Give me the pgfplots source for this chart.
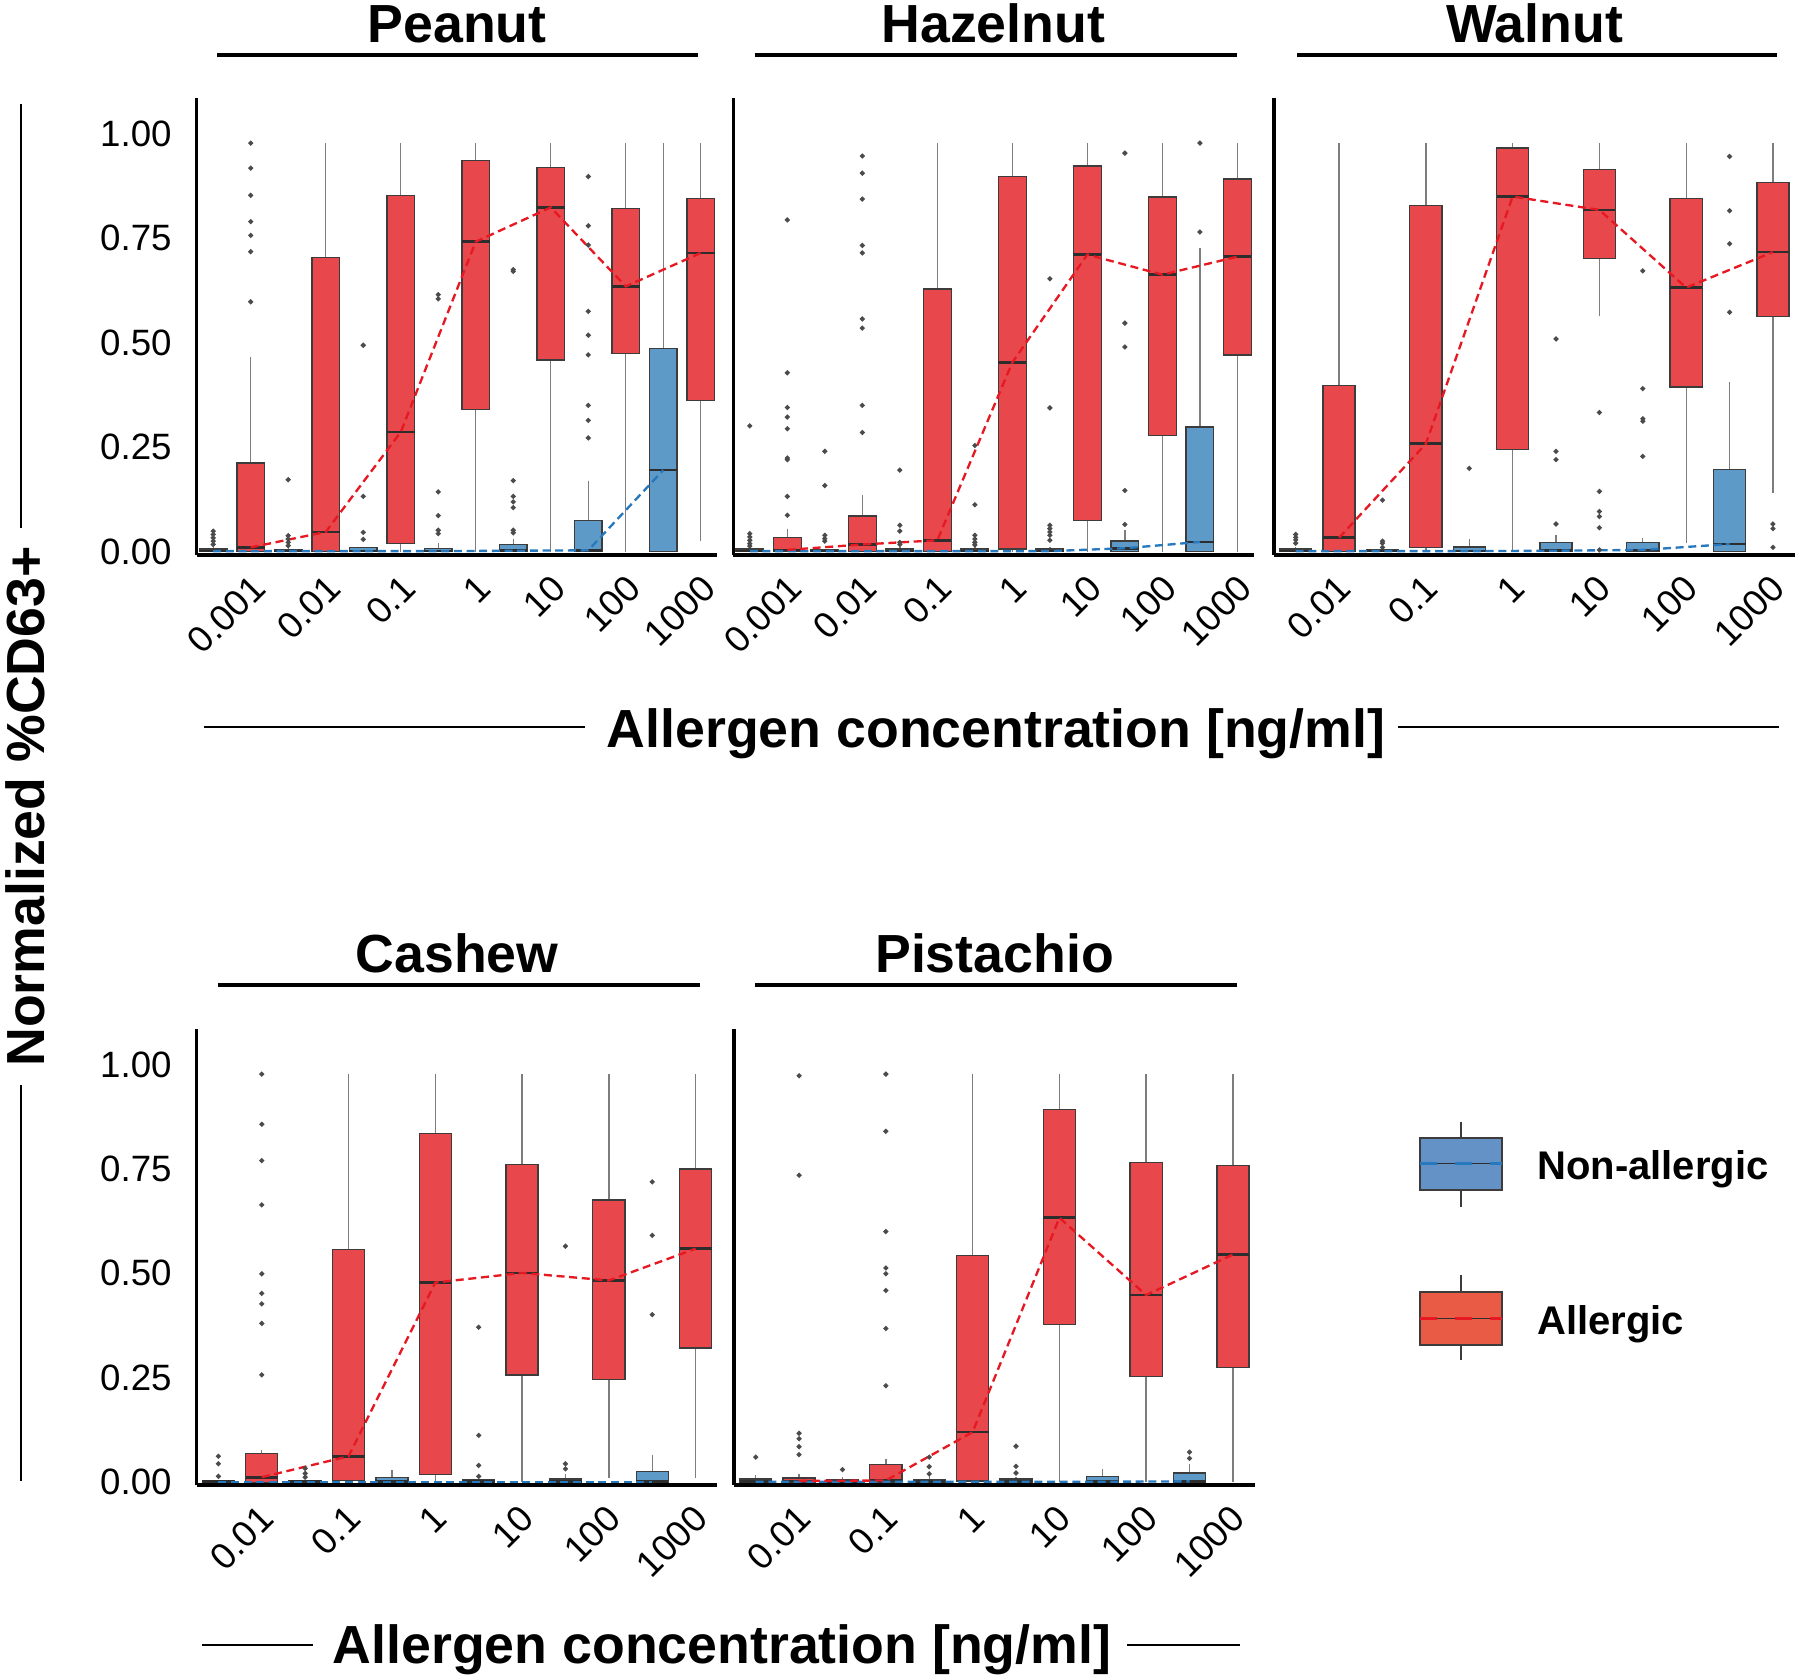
\documentclass[border=0pt]{standalone}
\usepackage{fontspec}
\setmainfont{Liberation Sans}
\usepackage{pgfplots}
\pgfplotsset{compat=1.18}
\usepgfplotslibrary{statistics}

\definecolor{bluefill}{RGB}{94,154,200}
\definecolor{redfill}{RGB}{232,72,76}
\definecolor{boxedge}{RGB}{60,60,60}
\definecolor{whiskc}{RGB}{125,125,125}
\definecolor{medc}{RGB}{45,45,45}
\definecolor{outc}{RGB}{75,75,75}
\definecolor{redline}{RGB}{230,25,35}
\definecolor{blueline}{RGB}{40,120,190}
\definecolor{legblue}{RGB}{100,146,198}
\definecolor{legred}{RGB}{233,91,69}

\newcommand{\ticksize}{\fontsize{11}{13}\selectfont}
\newcommand{\bigfont}{\fontsize{16.1}{19}\selectfont\bfseries}
\newcommand{\legfont}{\fontsize{12}{14}\selectfont\bfseries}

\pgfplotsset{
 panel/.style={
  scale only axis, width=156.18pt, height=137.01pt,
  ymin=-0.0075, ymax=1.086,
  axis x line*=bottom, axis y line*=left,
  x axis line style={line width=1.2pt,-},
  y axis line style={line width=1pt,-},
  major tick length=0pt,
  ytick={0,0.25,0.5,0.75,1},
  yticklabels={},
  tick label style={font=\ticksize},
  xticklabel style={xshift=10.5pt,yshift=-5.7pt,rotate=45,anchor=east},
  yticklabel style={xshift=-4pt},
  boxplot/draw direction=y,
  boxplot/box extend=0.37,
  boxplot/whisker extend=0,
  boxplot/every whisker/.style={draw=whiskc, line width=0.4pt},
  boxplot/every median/.style={draw=medc, line width=0.8pt},
 },
 seven/.style={xmin=-0.47, xmax=6.47, xtick={0,...,6}, xticklabels={0.001,0.01,0.1,1,10,100,1000}},
 six/.style={xmin=-0.5, xmax=5.5, xtick={0,...,5}, xticklabels={0.01,0.1,1,10,100,1000}},
 withy/.style={yticklabels={0.00,0.25,0.50,0.75,1.00}},
 nbx/.style={draw=boxedge, fill=bluefill, line width=0.4pt},
 alx/.style={draw=boxedge, fill=redfill, line width=0.4pt},
 outl/.style={only marks, mark=*, mark size=0.55pt, color=outc},
 rline/.style={no marks, draw=redline, line width=0.7pt, dash pattern=on 2.4pt off 1.4pt},
 bline/.style={no marks, draw=blueline, line width=0.7pt, dash pattern=on 2.4pt off 1.4pt},
}

\newcommand{\BP}[7]{\addplot[#2, boxplot prepared={draw direction=y, draw position=#1, lower whisker=#3, lower quartile=#4, median=#5, upper quartile=#6, upper whisker=#7}] coordinates {};}

\begin{document}
\begin{tikzpicture}
\useasboundingbox (0pt,0pt) rectangle (540pt,503.7pt);

% ---------------- Peanut
\begin{axis}[panel, seven, withy, at={(59.01pt,337.29pt)}, anchor=south west]
\BP{-0.25}{nbx}{0}{0}{0.001}{0.006}{0.010}
\BP{0.25}{alx}{0}{0}{0.010}{0.212}{0.465}
\BP{0.75}{nbx}{0}{0}{0.001}{0.005}{0.008}
\BP{1.25}{alx}{0}{0}{0.047}{0.704}{0.978}
\BP{1.75}{nbx}{0}{0}{0.001}{0.010}{0.012}
\BP{2.25}{alx}{0}{0.019}{0.286}{0.852}{0.978}
\BP{2.75}{nbx}{0}{0}{0.001}{0.008}{0.020}
\BP{3.25}{alx}{0}{0.340}{0.742}{0.936}{0.978}
\BP{3.75}{nbx}{0}{0}{0.002}{0.017}{0.029}
\BP{4.25}{alx}{0}{0.459}{0.824}{0.920}{0.978}
\BP{4.75}{nbx}{0}{0}{0.003}{0.074}{0.170}
\BP{5.25}{alx}{0}{0.475}{0.635}{0.822}{0.978}
\BP{5.75}{nbx}{0}{0}{0.195}{0.486}{0.978}
\BP{6.25}{alx}{0.025}{0.362}{0.715}{0.845}{0.978}
\addplot[outl] coordinates {(-0.25,0.049)(-0.25,0.041)(-0.25,0.033)(-0.25,0.025)(-0.25,0.017)
 (0.25,0.978)(0.25,0.918)(0.25,0.853)(0.25,0.790)(0.25,0.757)(0.25,0.718)(0.25,0.598)
 (0.75,0.172)(0.75,0.038)(0.75,0.030)(0.75,0.022)(0.75,0.014)
 (1.75,0.494)(1.75,0.132)(1.75,0.046)(1.75,0.029)
 (2.75,0.615)(2.75,0.605)(2.75,0.143)(2.75,0.086)(2.75,0.051)(2.75,0.043)
 (3.75,0.675)(3.75,0.671)(3.75,0.170)(3.75,0.132)(3.75,0.119)(3.75,0.105)(3.75,0.051)(3.75,0.045)
 (4.75,0.898)(4.75,0.780)(4.75,0.734)(4.75,0.575)(4.75,0.518)(4.75,0.471)(4.75,0.350)(4.75,0.314)(4.75,0.272)};
\addplot[bline] coordinates {(-0.25,0.001)(0.75,0.001)(1.75,0.001)(2.75,0.001)(3.75,0.002)(4.75,0.003)(5.75,0.195)};
\addplot[rline] coordinates {(0.25,0.010)(1.25,0.047)(2.25,0.286)(3.25,0.742)(4.25,0.824)(5.25,0.635)(6.25,0.715)};
\end{axis}

% ---------------- Hazelnut
\begin{axis}[panel, seven, at={(219.99pt,337.29pt)}, anchor=south west]
\BP{-0.25}{nbx}{0}{0}{0.001}{0.006}{0.010}
\BP{0.25}{alx}{0}{0}{0.004}{0.033}{0.055}
\BP{0.75}{nbx}{0}{0}{0.001}{0.004}{0.006}
\BP{1.25}{alx}{0}{0}{0.017}{0.085}{0.136}
\BP{1.75}{nbx}{0}{0}{0.001}{0.006}{0.010}
\BP{2.25}{alx}{0}{0}{0.027}{0.629}{0.978}
\BP{2.75}{nbx}{0}{0}{0.001}{0.006}{0.010}
\BP{3.25}{alx}{0}{0.006}{0.453}{0.898}{0.978}
\BP{3.75}{nbx}{0}{0}{0.001}{0.006}{0.012}
\BP{4.25}{alx}{0}{0.074}{0.711}{0.923}{0.978}
\BP{4.75}{nbx}{0}{0}{0.008}{0.025}{0.051}
\BP{5.25}{alx}{0}{0.278}{0.663}{0.849}{0.978}
\BP{5.75}{nbx}{0}{0}{0.023}{0.298}{0.727}
\BP{6.25}{alx}{0}{0.471}{0.706}{0.892}{0.978}
\addplot[outl] coordinates {(-0.25,0.301)(-0.25,0.043)(-0.25,0.035)(-0.25,0.027)(-0.25,0.019)(-0.25,0.013)
 (0.25,0.794)(0.25,0.428)(0.25,0.345)(0.25,0.322)(0.25,0.294)(0.25,0.224)(0.25,0.220)(0.25,0.132)(0.25,0.087)
 (0.75,0.240)(0.75,0.158)(0.75,0.039)(0.75,0.031)(0.75,0.025)
 (1.25,0.947)(1.25,0.906)(1.25,0.844)(1.25,0.733)(1.25,0.715)(1.25,0.557)(1.25,0.535)(1.25,0.350)(1.25,0.285)
 (1.75,0.195)(1.75,0.063)(1.75,0.049)(1.75,0.022)(1.75,0.017)
 (2.75,0.254)(2.75,0.112)(2.75,0.039)(2.75,0.030)(2.75,0.022)(2.75,0.016)
 (3.75,0.653)(3.75,0.344)(3.75,0.063)(3.75,0.055)(3.75,0.047)(3.75,0.039)(3.75,0.027)
 (4.75,0.954)(4.75,0.547)(4.75,0.490)(4.75,0.146)(4.75,0.065)
 (5.75,0.978)(5.75,0.765)};
\addplot[bline] coordinates {(-0.25,0.001)(0.75,0.001)(1.75,0.001)(2.75,0.001)(3.75,0.001)(4.75,0.008)(5.75,0.023)};
\addplot[rline] coordinates {(0.25,0.004)(1.25,0.017)(2.25,0.027)(3.25,0.453)(4.25,0.711)(5.25,0.663)(6.25,0.706)};
\end{axis}

% ---------------- Walnut
\begin{axis}[panel, six, at={(382.2pt,337.29pt)}, anchor=south west]
\BP{-0.25}{nbx}{0}{0}{0.001}{0.006}{0.010}
\BP{0.25}{alx}{0}{0}{0.033}{0.398}{0.978}
\BP{0.75}{nbx}{0}{0}{0.001}{0.004}{0.006}
\BP{1.25}{alx}{0}{0.010}{0.258}{0.829}{0.978}
\BP{1.75}{nbx}{0}{0}{0.001}{0.011}{0.029}
\BP{2.25}{alx}{0}{0.244}{0.850}{0.966}{0.978}
\BP{2.75}{nbx}{0}{0}{0.002}{0.022}{0.039}
\BP{3.25}{alx}{0.563}{0.701}{0.818}{0.915}{0.978}
\BP{3.75}{nbx}{0}{0}{0.004}{0.021}{0.033}
\BP{4.25}{alx}{0.020}{0.394}{0.632}{0.846}{0.978}
\BP{4.75}{nbx}{0}{0}{0.018}{0.196}{0.405}
\BP{5.25}{alx}{0.140}{0.563}{0.717}{0.883}{0.978}
\addplot[outl] coordinates {(-0.25,0.041)(-0.25,0.034)(-0.25,0.028)(-0.25,0.020)
 (0.75,0.123)(0.75,0.025)(0.75,0.020)(0.75,0.010)
 (1.75,0.199)
 (2.75,0.509)(2.75,0.240)(2.75,0.220)(2.75,0.066)
 (3.25,0.333)(3.25,0.144)(3.25,0.096)(3.25,0.084)(3.25,0.057)(3.25,0.004)
 (3.75,0.672)(3.75,0.390)(3.75,0.318)(3.75,0.312)(3.75,0.228)
 (4.75,0.946)(4.75,0.816)(4.75,0.737)(4.75,0.573)
 (5.25,0.066)(5.25,0.055)(5.25,0.010)};
\addplot[bline] coordinates {(-0.25,0.001)(0.75,0.001)(1.75,0.001)(2.75,0.002)(3.75,0.004)(4.75,0.018)};
\addplot[rline] coordinates {(0.25,0.033)(1.25,0.258)(2.25,0.850)(3.25,0.818)(4.25,0.632)(5.25,0.717)};
\end{axis}

% ---------------- Cashew
\begin{axis}[panel, six, withy, at={(59.01pt,58.11pt)}, anchor=south west]
\BP{-0.25}{nbx}{0}{0}{0.001}{0.004}{0.006}
\BP{0.25}{alx}{0}{0}{0.012}{0.069}{0.077}
\BP{0.75}{nbx}{0}{0}{0.001}{0.004}{0.006}
\BP{1.25}{alx}{0}{0.004}{0.062}{0.557}{0.977}
\BP{1.75}{nbx}{0}{0}{0.001}{0.012}{0.030}
\BP{2.25}{alx}{0}{0.018}{0.478}{0.835}{0.977}
\BP{2.75}{nbx}{0}{0}{0.001}{0.006}{0.010}
\BP{3.25}{alx}{0}{0.257}{0.501}{0.760}{0.977}
\BP{3.75}{nbx}{0}{0}{0.001}{0.008}{0.020}
\BP{4.25}{alx}{0.010}{0.246}{0.483}{0.676}{0.977}
\BP{4.75}{nbx}{0}{0}{0.001}{0.026}{0.066}
\BP{5.25}{alx}{0.009}{0.321}{0.559}{0.750}{0.977}
\addplot[outl] coordinates {(-0.25,0.062)(-0.25,0.044)(-0.25,0.014)
 (0.25,0.977)(0.25,0.857)(0.25,0.770)(0.25,0.664)(0.25,0.499)(0.25,0.452)(0.25,0.427)(0.25,0.380)(0.25,0.257)
 (0.75,0.033)(0.75,0.021)(0.75,0.012)
 (2.75,0.371)(2.75,0.112)(2.75,0.040)(2.75,0.014)
 (3.75,0.565)(3.75,0.044)(3.75,0.032)
 (4.75,0.719)(4.75,0.591)(4.75,0.401)};
\addplot[bline] coordinates {(-0.25,0.001)(0.75,0.001)(1.75,0.001)(2.75,0.001)(3.75,0.001)(4.75,0.001)};
\addplot[rline] coordinates {(0.25,0.012)(1.25,0.062)(2.25,0.478)(3.25,0.501)(4.25,0.483)(5.25,0.559)};
\end{axis}

% ---------------- Pistachio
\begin{axis}[panel, six, at={(220.2pt,58.11pt)}, anchor=south west]
\BP{-0.25}{nbx}{0}{0}{0.001}{0.008}{0.017}
\BP{0.25}{alx}{0}{0}{0.003}{0.010}{0.020}
\BP{0.75}{nbx}{0}{0}{0.001}{0.006}{0.012}
\BP{1.25}{alx}{0}{0}{0.004}{0.042}{0.056}
\BP{1.75}{nbx}{0}{0}{0.001}{0.007}{0.015}
\BP{2.25}{alx}{0}{0.003}{0.120}{0.543}{0.977}
\BP{2.75}{nbx}{0}{0}{0.001}{0.008}{0.012}
\BP{3.25}{alx}{0}{0.377}{0.633}{0.892}{0.977}
\BP{3.75}{nbx}{0}{0}{0.001}{0.014}{0.031}
\BP{4.25}{alx}{0}{0.253}{0.448}{0.766}{0.977}
\BP{4.75}{nbx}{0}{0}{0.002}{0.022}{0.044}
\BP{5.25}{alx}{0}{0.275}{0.545}{0.759}{0.977}
\addplot[outl] coordinates {(-0.25,0.060)
 (0.25,0.973)(0.25,0.735)(0.25,0.117)(0.25,0.104)(0.25,0.085)(0.25,0.066)
 (0.75,0.030)
 (1.25,0.977)(1.25,0.840)(1.25,0.600)(1.25,0.513)(1.25,0.499)(1.25,0.459)(1.25,0.368)(1.25,0.231)
 (1.75,0.060)(1.75,0.037)(1.75,0.020)
 (2.75,0.086)(2.75,0.038)(2.75,0.022)
 (4.75,0.072)(4.75,0.057)};
\addplot[bline] coordinates {(-0.25,0.001)(0.75,0.001)(1.75,0.001)(2.75,0.001)(3.75,0.001)(4.75,0.002)};
\addplot[rline] coordinates {(0.25,0.003)(1.25,0.004)(2.25,0.120)(3.25,0.633)(4.25,0.448)(5.25,0.545)};
\end{axis}

% ---------------- titles
\node[anchor=base, font=\bigfont, inner sep=0pt] at (137.1pt,490.95pt) {Peanut};
\node[anchor=base, font=\bigfont, inner sep=0pt] at (298.0pt,490.95pt) {Hazelnut};
\node[anchor=base, font=\bigfont, inner sep=0pt] at (460.35pt,490.95pt) {Walnut};
\node[anchor=base, font=\bigfont, inner sep=0pt] at (137.1pt,212.1pt) {Cashew};
\node[anchor=base, font=\bigfont, inner sep=0pt] at (298.35pt,212.1pt) {Pistachio};
\draw[line width=1pt] (65.1pt,487.2pt) -- (209.4pt,487.2pt);
\draw[line width=1pt] (226.5pt,487.2pt) -- (371.1pt,487.2pt);
\draw[line width=1pt] (389.1pt,487.2pt) -- (533.1pt,487.2pt);
\draw[line width=1pt] (65.4pt,208.2pt) -- (210pt,208.2pt);
\draw[line width=1pt] (226.5pt,208.2pt) -- (371.1pt,208.2pt);

% ---------------- x labels
\node[anchor=base, font=\bigfont, inner sep=0pt] at (298.8pt,279.45pt) {Allergen concentration [ng/ml]};
\draw[line width=0.8pt] (61.2pt,285.6pt) -- (175.5pt,285.6pt);
\draw[line width=0.8pt] (419.4pt,285.6pt) -- (533.7pt,285.6pt);
\node[anchor=base, font=\bigfont, inner sep=0pt] at (216.6pt,4.8pt) {Allergen concentration [ng/ml]};
\draw[line width=0.8pt] (60.6pt,10.2pt) -- (93.9pt,10.2pt);
\draw[line width=0.8pt] (338.1pt,10.2pt) -- (372pt,10.2pt);

% ---------------- y label
\node[rotate=90, anchor=base, font=\bigfont, inner sep=0pt] at (13.2pt,261.75pt) {Normalized \%CD63+};
\draw[line width=0.8pt] (6.3pt,472.5pt) -- (6.3pt,345.3pt);
\draw[line width=0.8pt] (6.3pt,178.2pt) -- (6.3pt,59.4pt);

% ---------------- legend
\draw[boxedge, line width=0.5pt] (438.3pt,167.2pt) -- (438.3pt,141.7pt);
\draw[boxedge, fill=legblue, line width=0.5pt] (426pt,146.7pt) rectangle (450.5pt,162.4pt);
\draw[medc, line width=0.5pt] (426pt,154.7pt) -- (450.5pt,154.7pt);
\draw[blueline, line width=1.1pt, dash pattern=on 5pt off 5.5pt] (426pt,154.7pt) -- (450.5pt,154.7pt);
\node[anchor=base west, font=\legfont, inner sep=0pt] at (461pt,149.85pt) {Non-allergic};
\draw[boxedge, line width=0.5pt] (438.3pt,121.2pt) -- (438.3pt,95.7pt);
\draw[boxedge, fill=legred, line width=0.5pt] (426pt,100.2pt) rectangle (450.5pt,116.2pt);
\draw[medc, line width=0.5pt] (426pt,108.2pt) -- (450.5pt,108.2pt);
\draw[redline, line width=1.1pt, dash pattern=on 5pt off 5.5pt] (426pt,108.2pt) -- (450.5pt,108.2pt);
\node[anchor=base west, font=\legfont, inner sep=0pt] at (461pt,103.35pt) {Allergic};
\end{tikzpicture}
\end{document}
